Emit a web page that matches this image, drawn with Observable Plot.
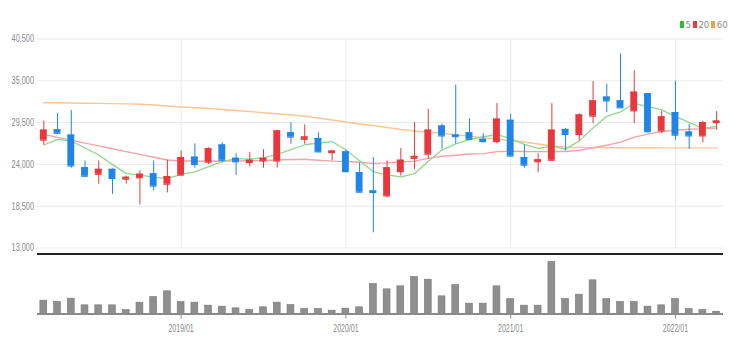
<!DOCTYPE html>
<html>
<head>
<meta charset="utf-8">
<script src="https://cdn.jsdelivr.net/npm/d3@7"></script>
<script src="https://cdn.jsdelivr.net/npm/@observablehq/plot@0.6"></script>
<style>
  body { margin: 0; background: #fff; }
  #chart { position: relative; width: 738px; height: 352px; overflow: hidden; font-family: "Liberation Sans Narrow", "DejaVu Sans Condensed", sans-serif; }
  #chart svg { display: block; }
  #legend { position: absolute; left: 680px; top: 19px; display: flex; align-items: center; font-size: 9.5px; color: #8a8a8a; }
  #legend .sw { display: inline-block; width: 4px; height: 7px; margin-right: 1.5px; }
  #legend .lt { display: inline-block; margin-right: 2px; }
</style>
</head>
<body>
<div id="chart"><div id="legend"></div></div>
<script>
// ---- data (monthly candles) ----
const months = [
  "2018/03","2018/04","2018/05","2018/06","2018/07","2018/08","2018/09","2018/10","2018/11","2018/12",
  "2019/01","2019/02","2019/03","2019/04","2019/05","2019/06","2019/07","2019/08","2019/09","2019/10","2019/11","2019/12",
  "2020/01","2020/02","2020/03","2020/04","2020/05","2020/06","2020/07","2020/08","2020/09","2020/10","2020/11","2020/12",
  "2021/01","2021/02","2021/03","2021/04","2021/05","2021/06","2021/07","2021/08","2021/09","2021/10","2021/11","2021/12",
  "2022/01","2022/02","2022/03","2022/04"
];
const open  = [27200,28550,27850,23550,22700,23350,22050,22250,22750,21400,22600,24950,24300,26550,24800,24250,24450,24450,28150,27300,27400,25550,25650,22900,20500,19850,23050,24800,25350,29050,27850,28150,27300,27000,29800,24900,24350,24550,28600,27950,30350,32850,32350,31050,33300,28400,30800,28250,27750,29500];
const high  = [29700,30700,31100,24450,24450,23400,22450,23150,24450,24550,25750,26700,26200,26850,25400,25550,25950,28500,29500,29200,28150,25850,25850,24200,24900,24450,26100,29500,31250,29300,34450,30000,28050,32000,30600,26550,25400,32000,28750,30650,34900,34550,38550,36300,33300,30950,34950,29250,29700,30950];
const low   = [26550,27950,23500,22250,21400,20050,21400,18650,20500,20250,22450,23500,24000,24200,22550,23650,23500,23500,26650,26650,25550,24450,22900,20250,15000,19600,22450,23350,24650,26000,26650,27100,26850,26700,24950,23500,22900,24350,25750,27100,29350,30800,31450,29350,28150,28050,27100,26000,26850,28500];
const close = [28500,28100,23800,22450,23350,22150,22300,22700,21150,22400,24900,24000,26050,24550,24350,24550,24800,28400,27600,27600,25650,25750,23050,20350,20300,23550,24550,25050,28500,27750,27650,27300,27000,29950,25100,23900,24600,28500,27950,30500,32350,32350,31450,33500,28300,30250,27850,27750,29500,29700];
const volume = [400,360,460,260,260,260,120,340,510,680,360,340,250,220,170,120,200,340,270,150,150,100,160,200,900,740,830,1110,1030,530,870,310,310,830,450,250,250,1560,450,580,1010,450,360,360,220,260,450,150,120,70];
const ma5  = [26550,27300,27080,26160,25245,23974,22816,22597,22334,22139,22681,23023,23697,24374,24769,24700,24858,25324,25937,26587,26814,27006,25934,24487,23031,22610,22365,22771,24402,25884,26700,27253,27638,27919,27393,26648,26111,26411,26016,27095,28780,30325,30919,32033,31593,31172,30277,29533,28725,29006];
const ma20 = [27959,27564,27169,26800,26432,26063,25681,25313,24944,24576,24445,24445,24405,24445,24460,24480,24520,24580,24640,24685,24542,24426,24388,24283,24132,24201,24313,24432,24800,25068,25206,25371,25417,25686,25724,25693,25684,25688,25706,25851,26184,26513,26935,27593,27991,28325,28492,28625,28673,28772];
const ma60 = [32117,32104,32078,32051,32025,31999,31959,31920,31814,31683,31551,31459,31354,31222,31090,30958,30801,30656,30498,30327,30103,29840,29577,29314,29116,28853,28590,28393,28235,28090,27906,27709,27511,27340,27143,26945,26682,26419,26261,26230,26210,26200,26200,26190,26190,26180,26180,26180,26170,26170];
const yTicks = [13000,18500,24000,29500,35000,40500];
const legendLabels = ["5","20","60"];

// ---- styling constants ----
const UP = "#e8383d", DOWN = "#1f86e8";
const C5 = "#8fd98f", C20 = "#f4a3a6", C60 = "#f8c794";
const LEG = ["#28bf34", "#ea3b3b", "#f2a23a"];
const GRID = "#ebebeb";
const VOL_MAX = 1800;
const X_DOMAIN = [-0.46, 49.5];
const HALF = 0.25;

const candles = months.map((m, i) => ({i, m, o: open[i], h: high[i], l: low[i], c: close[i], up: close[i] >= open[i]}));
const vols = volume.map((v, i) => ({i, v}));
const janIdx = months.map((m, i) => m.endsWith("/01") ? i : -1).filter(i => i >= 0);
const fmt = d3.format(",");
const col = d => d.up ? UP : DOWN;

function squeeze(svg, k) {
  svg.querySelectorAll("text").forEach(t => {
    const x = parseFloat(t.getAttribute("x")) || 0;
    const y = parseFloat(t.getAttribute("y")) || 0;
    const tr = t.getAttribute("transform") || "";
    t.setAttribute("transform", `${tr} translate(${x},${y}) scale(${k},1) translate(${-x},${-y})`);
  });
}

const price = Plot.plot({
  width: 738, height: 253,
  marginTop: 38.5, marginBottom: 5.5, marginLeft: 37, marginRight: 15,
  style: {fontFamily: '"Liberation Sans Narrow", sans-serif', fontSize: "10px", background: "transparent"},
  x: {type: "linear", domain: X_DOMAIN, axis: null},
  y: {domain: [13000, 40500], axis: null},
  marks: [
    Plot.ruleY(yTicks, {stroke: GRID, strokeWidth: 1}),
    Plot.ruleX(janIdx, {stroke: GRID, strokeWidth: 1}),
    Plot.lineY(ma60, {x: (d, i) => i, stroke: C60, strokeWidth: 1.4}),
    Plot.lineY(ma20, {x: (d, i) => i, stroke: C20, strokeWidth: 1.4}),
    Plot.lineY(ma5, {x: (d, i) => i, stroke: C5, strokeWidth: 1.3}),
    Plot.ruleX(candles, {x: "i", y1: "l", y2: "h", stroke: col, strokeWidth: 1}),
    Plot.rectY(candles, {x1: d => d.i - HALF, x2: d => d.i + HALF, y1: "o", y2: "c", fill: col}),
    Plot.ruleY(candles, {x1: d => d.i - HALF, x2: d => d.i + HALF, y: "c", stroke: col, strokeWidth: 1.2}),
    Plot.ruleY(candles, {x1: d => d.i - HALF, x2: d => d.i + HALF, y: "o", stroke: col, strokeWidth: 1.2}),
    Plot.text(yTicks, {y: d => d, text: d => fmt(d), frameAnchor: "left", textAnchor: "end", dx: -3.5, fill: "#8a8a8a", fontSize: 10.5})
  ]
});
squeeze(price, 0.7);

const vol = Plot.plot({
  width: 738, height: 99,
  marginTop: 0.5, marginBottom: 38.5, marginLeft: 37, marginRight: 15,
  style: {fontFamily: '"Liberation Sans Narrow", sans-serif', fontSize: "10px", color: "#8a8a8a", background: "transparent"},
  x: {type: "linear", domain: X_DOMAIN, ticks: janIdx, tickFormat: i => months[i], tickSize: 5, tickPadding: 6, label: null},
  y: {domain: [0, VOL_MAX], axis: null},
  marks: [
    Plot.rectY(vols, {x1: d => d.i - HALF, x2: d => d.i + HALF, y: "v", fill: "#8f8f8f", stroke: "#777", strokeWidth: 0.6}),
    Plot.ruleY([0], {stroke: "#8a8a8a", strokeWidth: 2}),
    Plot.ruleY([VOL_MAX], {stroke: "#222", strokeWidth: 2})
  ]
});
squeeze(vol, 0.7);

const chart = document.getElementById("chart");
chart.append(price, vol);

const legend = document.getElementById("legend");
legendLabels.forEach((lab, k) => {
  const s = document.createElement("span");
  s.className = "sw"; s.style.background = LEG[k];
  const t = document.createElement("span");
  t.className = "lt"; t.textContent = lab;
  legend.append(s, t);
});
</script>
</body>
</html>
